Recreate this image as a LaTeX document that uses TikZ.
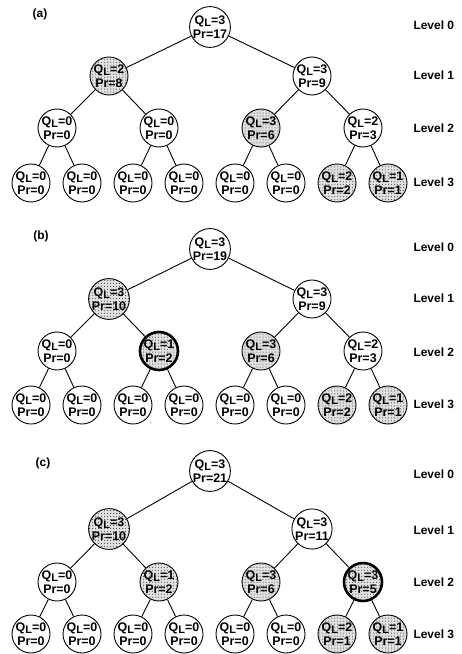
\documentclass[tikz,border=0pt]{standalone}
\usepackage{fontspec}
\setmainfont{Liberation Sans}
\usetikzlibrary{patterns}
\tikzset{
x=1bp, y=-1bp, % one unit per pixel, y runs downwards
qnode/.style={circle, draw, line width=0.9bp, minimum size=38bp, inner sep=0pt,
  align=center, font=\bfseries\fontsize{12.5}{13.5}\selectfont}, % plain tree node
busy/.style={qnode, preaction={fill=black!12}, pattern=dots, pattern color=black!80}, % dotted node
chosen/.style={busy, line width=2.6bp}, % node picked in this step
edge/.style={line width=0.9bp},
lvl/.style={anchor=west, font=\bfseries\fontsize{12}{13}\selectfont}, % level names on the right
tag/.style={font=\bfseries\fontsize{12}{13}\selectfont},
}
\newcommand{\qp}[2]{Q\raisebox{-0.35ex}{\fontsize{11}{11}\selectfont L}=#1\\Pr=#2}

\begin{document}
\begin{tikzpicture}
\useasboundingbox (0,0) rectangle (462,654);

% (a)
\node[tag] (ta) at (40,14) {(a)};
\node[qnode] (a1) at (210,27) {\qp{3}{17}};
\node[busy] (a2) at (109,76) {\qp{2}{8}};
\node[qnode] (a3) at (312,76) {\qp{3}{9}};
\node[qnode] (a4) at (57,128) {\qp{0}{0}};
\node[qnode] (a5) at (159,128) {\qp{0}{0}};
\node[busy] (a6) at (261,128) {\qp{3}{6}};
\node[qnode] (a7) at (363,128) {\qp{2}{3}};
\foreach \i/\x in {8/31,9/82,10/133,11/184,12/235,13/286}
  \node[qnode] (a\i) at (\x,183) {\qp{0}{0}};
\node[busy] (a14) at (337,183) {\qp{2}{2}};
\node[busy] (a15) at (388,183) {\qp{1}{1}};
\foreach \l/\y in {0/25,1/75,2/128,3/182}
  \node[lvl] (la\l) at (410,\y) {Level \l};

% (b)
\node[tag] (tb) at (41,236) {(b)};
\node[qnode] (b1) at (210,249) {\qp{3}{19}};
\node[busy] (b2) at (109,299) {\qp{3}{10}};
\node[qnode] (b3) at (312,299) {\qp{3}{9}};
\node[qnode] (b4) at (57,351) {\qp{0}{0}};
\node[chosen] (b5) at (159,351) {\qp{1}{2}};
\node[busy] (b6) at (261,351) {\qp{3}{6}};
\node[qnode] (b7) at (363,351) {\qp{2}{3}};
\foreach \i/\x in {8/31,9/82,10/133,11/184,12/235,13/286}
  \node[qnode] (b\i) at (\x,405) {\qp{0}{0}};
\node[busy] (b14) at (337,405) {\qp{2}{2}};
\node[busy] (b15) at (388,405) {\qp{1}{1}};
\foreach \l/\y in {0/247,1/298,2/352,3/404}
  \node[lvl] (lb\l) at (410,\y) {Level \l};

% (c)
\node[tag] (tc) at (43,463) {(c)};
\node[qnode] (c1) at (210,471) {\qp{3}{21}};
\node[busy] (c2) at (109,529) {\qp{3}{10}};
\node[qnode] (c3) at (312,529) {\qp{3}{11}};
\node[qnode] (c4) at (57,582) {\qp{0}{0}};
\node[busy] (c5) at (159,582) {\qp{1}{2}};
\node[busy] (c6) at (261,582) {\qp{3}{6}};
\node[chosen] (c7) at (363,582) {\qp{3}{5}};
\foreach \i/\x in {8/31,9/82,10/133,11/184,12/235,13/286}
  \node[qnode] (c\i) at (\x,634) {\qp{0}{0}};
\node[busy] (c14) at (337,634) {\qp{2}{1}};
\node[busy] (c15) at (388,634) {\qp{1}{1}};
\foreach \l/\y in {0/474,1/530,2/582,3/634}
  \node[lvl] (lc\l) at (410,\y) {Level \l};

% parent of node i is node i/2
\foreach \t in {a,b,c}
  \foreach \i in {2,...,15} {
    \pgfmathtruncatemacro\up{\i/2}
    \draw[edge] (\t\up) -- (\t\i);
  }
\end{tikzpicture}
\end{document}
